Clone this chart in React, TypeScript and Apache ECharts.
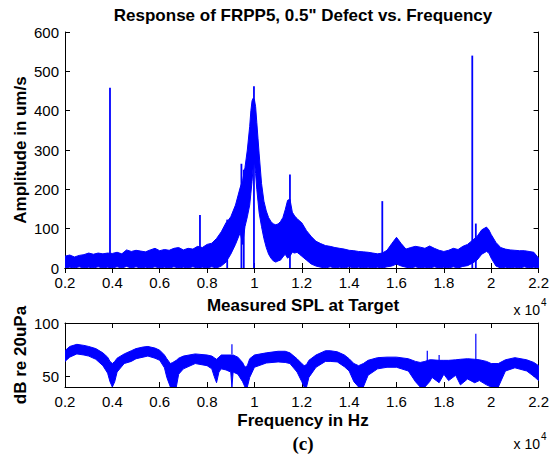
import React, { useEffect, useRef } from "react";
import * as echarts from "echarts";

// ---- Top plot: vibration response amplitude (um/s), noisy band ----
const ampFreq = [
  2000, 2200, 2400, 2600, 2800, 3000, 3200, 3400, 3600, 3800, 4000, 4200, 4400, 4600, 4800,
  5000, 5200, 5400, 5600, 5800, 6000, 6200, 6400, 6600, 6800, 7000, 7200, 7400, 7600, 7800,
  8000, 8200, 8400, 8600, 8800, 8900, 9000, 9200, 9400, 9500, 9600, 9700, 9800, 9850, 9900,
  9950, 10000, 10050, 10100, 10150, 10200, 10300, 10400, 10500, 10600, 10700, 10800, 10900,
  11000, 11100, 11200, 11300, 11400, 11500, 11600, 11700, 11800, 11900, 12000, 12200, 12400,
  12600, 12800, 13000, 13200, 13400, 13600, 13800, 14000, 14200, 14400, 14600, 14800, 15000,
  15200, 15400, 15600, 15800, 16000, 16200, 16400, 16600, 16800, 17000, 17200, 17400, 17600,
  17800, 18000, 18200, 18400, 18600, 18800, 19000, 19200, 19400, 19600, 19800, 19900, 20000,
  20200, 20400, 20600, 20800, 21000, 21200, 21400, 21600, 21800, 22000,
];
const ampHigh = [
  30, 33, 28, 32, 34, 38, 35, 38, 36, 38, 37, 40, 36, 46, 42,
  45, 43, 41, 46, 50, 44, 47, 45, 50, 52, 46, 50, 48, 55, 52,
  60, 63, 75, 92, 115, 122, 130, 160, 205, 222, 255, 300, 360, 400, 425,
  432, 428, 410, 370, 330, 290, 215, 170, 145, 128, 118, 112, 110,
  112, 118, 128, 148, 172, 175, 142, 132, 126, 120, 115, 95, 80,
  68, 62, 57, 55, 52, 50, 48, 45, 44, 42, 41, 40, 38,
  36, 38, 45, 62, 78, 62, 48, 52, 55, 53, 50, 56, 50,
  45, 42, 45, 50, 47, 55, 60, 70, 80, 97, 104, 97, 85,
  65, 52, 48, 46, 45, 44, 44, 42, 40, 25,
];
const ampLow = [
  0, 2, 0, 3, 0, 2, 0, 3, 0, 2, 0, 3, 0, 4, 0,
  3, 0, 2, 0, 3, 0, 2, 0, 3, 0, 2, 0, 3, 0, 2,
  0, 3, 0, 5, 15, 25, 35, 60, 90, 60, 105, 130, 160, 190, 220,
  260, 270, 240, 200, 170, 140, 105, 75, 52, 35, 25, 18, 15,
  18, 20, 28, 35, 25, 30, 40, 38, 40, 35, 30, 20, 10,
  5, 2, 0, 3, 0, 2, 0, 3, 0, 2, 0, 2, 0,
  2, 0, 3, 5, 10, 5, 2, 0, 3, 0, 2, 0, 3,
  0, 2, 0, 3, 0, 4, 6, 12, 20, 35, 42, 38, 25,
  5, 0, 2, 0, 2, 0, 3, 0, 2, 0,
];
// narrow spikes [frequency Hz, peak um/s]
const ampSpikes = [
  [3900, 458], [7700, 135], [8850, 123], [9450, 265], [9550, 250], [9980, 462],
  [11500, 238], [15400, 170], [19200, 540], [19350, 113],
];

// ---- Bottom plot: measured SPL (dB re 20 uPa) ----
const splFreq = [
  2000, 2200, 2500, 2800, 3000, 3300, 3600, 3800, 3900, 4000, 4100, 4200, 4500, 4800, 5000,
  5300, 5500, 5800, 6000, 6200, 6300, 6450, 6550, 6700, 6800, 7000, 7500, 8000, 8200, 8300,
  8400, 8500, 8600, 8800, 9000, 9050, 9100, 9300, 9500, 9600, 9700, 9800, 10000, 10500, 11000,
  11300, 11500, 11800, 12000, 12100, 12200, 12300, 12600, 13000, 13200, 13500, 13800, 14000,
  14200, 14400, 14600, 14800, 15200, 15600, 16000, 16500, 16800, 17000, 17200, 17400, 17500,
  17800, 18000, 18200, 18500, 18700, 19000, 19300, 19500, 19800, 20000, 20300, 20600, 21000,
  21500, 21800, 22000,
];
const splHigh = [
  74, 78, 80, 79, 78, 76, 72, 68, 64, 62, 64, 67, 71, 74, 76,
  77.5, 78, 76.5, 74.5, 70, 66.5, 62, 63, 65, 67, 69, 71, 70, 69, 67.5,
  66, 68, 70, 70, 70, 69, 70, 68, 63, 58.5, 60, 66.5, 70, 72, 73.5,
  73.5, 72, 66.5, 62, 60, 61, 65, 70, 74, 74, 73, 70, 66.5,
  62, 60, 62, 65, 67.5, 68, 68, 66.5, 64, 63, 64, 65.5, 65.5,
  65, 65, 65, 65.5, 66, 66.5, 66, 65.5, 64, 62, 62, 65.5, 67.5,
  65.5, 63, 60,
];
const splLow = [
  64, 68, 71, 70, 69, 66, 60, 53, 45, 40, 45, 54, 62, 64, 66.5,
  68, 69, 67, 65, 58, 49, 40, 40, 40, 52, 57, 62, 60, 57, 50,
  44, 54, 57, 56, 54, 40, 54, 52, 45, 40, 40, 49, 58.5, 62.5, 63.5,
  63, 62, 54, 45, 40, 40, 49, 58.5, 64, 64, 63.5, 59, 55,
  45, 40, 40, 51, 57, 58.5, 58.5, 55, 45, 40, 40, 45, 49,
  44, 52, 46, 51, 42, 47.5, 44, 46, 42, 40, 40, 55, 58,
  55, 50, 46,
];
const splSpikes = [
  [9050, 80], [17300, 74], [17800, 70], [19350, 90],
];

const xTicks = { min: 2000, max: 22000, interval: 2000 };

const BLUE = "#0000ff";
const FONT = "'Liberation Sans', Arial, sans-serif";
const TICK_SIZE = 15;

// custom series drawing a filled noise band between low/high envelopes, plus spikes
function bandSeries(
  xIdx: number, yIdx: number,
  freq: number[], high: number[], low: number[],
  spikes: number[][], spikeBase: number, spikeWidth: number,
) {
  return {
    type: "custom",
    xAxisIndex: xIdx,
    yAxisIndex: yIdx,
    silent: true,
    clip: true,
    data: [[freq[0], low[0]]],
    renderItem: (_params: any, api: any) => {
      const pts: number[][] = [];
      for (let i = 0; i < freq.length; i++) pts.push(api.coord([freq[i], high[i]]));
      for (let i = freq.length - 1; i >= 0; i--) pts.push(api.coord([freq[i], low[i]]));
      const children: any[] = [
        {
          type: "polygon",
          shape: { points: pts },
          style: { fill: BLUE, stroke: BLUE, lineWidth: 1 },
        },
      ];
      spikes.forEach(([f, v]) => {
        const a = api.coord([f, spikeBase]);
        const b = api.coord([f, v]);
        children.push({
          type: "line",
          shape: { x1: a[0], y1: a[1], x2: b[0], y2: b[1] },
          style: { stroke: BLUE, lineWidth: spikeWidth },
        });
      });
      return { type: "group", children };
    },
  };
}

function buildOption() {
  const axisLine = { show: true, lineStyle: { color: "#000", width: 1 } };
  const tick = { show: true, inside: true, length: 5, lineStyle: { color: "#000", width: 1 } };
  const label = { color: "#000", fontSize: TICK_SIZE, fontFamily: FONT };
  const fmtX = (v: number) => String(parseFloat((v / 10000).toFixed(1)));

  const xAx = (grid: number, pos: "top" | "bottom", showLabel: boolean) => ({
    type: "value",
    gridIndex: grid,
    position: pos,
    ...xTicks,
    axisLine,
    axisTick: tick,
    splitLine: { show: false },
    axisLabel: { show: showLabel, ...label, margin: 7, formatter: fmtX },
  });

  const text = (x: number, y: number, t: string, font: string, extra: any = {}) => ({
    type: "text", x, y, ...extra,
    style: { text: t, fill: "#000", font, align: "center", verticalAlign: "middle", ...(extra.style || {}) },
  });

  return {
    animation: false,
    grid: [
      { left: 65, top: 32, width: 477, height: 236 },
      { left: 65, top: 323, width: 477, height: 64 },
    ],
    xAxis: [xAx(0, "bottom", true), xAx(0, "top", false), xAx(1, "bottom", true), xAx(1, "top", false)],
    yAxis: [
      {
        type: "value", gridIndex: 0, position: "left", min: 0, max: 600, interval: 100,
        axisLine, axisTick: tick, splitLine: { show: false },
        axisLabel: { ...label, margin: 6 },
      },
      {
        type: "value", gridIndex: 0, position: "right", min: 0, max: 600, interval: 100,
        axisLine, axisTick: tick, splitLine: { show: false }, axisLabel: { show: false },
      },
      {
        type: "value", gridIndex: 1, position: "left", min: 40, max: 100,
        axisLine, axisTick: { ...tick, customValues: [50, 100] }, splitLine: { show: false },
        axisLabel: { ...label, margin: 6, customValues: [50, 100] },
      },
      {
        type: "value", gridIndex: 1, position: "right", min: 40, max: 100,
        axisLine, axisTick: { ...tick, customValues: [50, 100] }, splitLine: { show: false },
        axisLabel: { show: false, customValues: [50, 100] },
      },
    ],
    series: [
      bandSeries(0, 0, ampFreq, ampHigh, ampLow, ampSpikes, 0, 1.8),
      bandSeries(2, 2, splFreq, splHigh, splLow, splSpikes, 60, 1.2),
    ],
    graphic: [
      text(303, 15, 'Response of FRPP5, 0.5" Defect vs. Frequency', `bold 17px ${FONT}`),
      text(303, 305, "Measured SPL at Target", `bold 17px ${FONT}`),
      text(303, 420, "Frequency in Hz", `bold 17px ${FONT}`),
      text(303, 443, "(c)", `bold 19px 'Liberation Serif', 'Times New Roman', serif`),
      text(20, 150, "Amplitude in um/s", `bold 17px ${FONT}`, { rotation: Math.PI / 2 }),
      text(20, 355, "dB re 20uPa", `bold 17px ${FONT}`, { rotation: Math.PI / 2 }),
      text(540, 310, "x 10", `14px ${FONT}`, { style: { align: "right" } }),
      text(541, 302, "4", `10px ${FONT}`, { style: { align: "left" } }),
      text(540, 444, "x 10", `14px ${FONT}`, { style: { align: "right" } }),
      text(541, 436, "4", `10px ${FONT}`, { style: { align: "left" } }),
    ],
  };
}

export default function App() {
  const ref = useRef<HTMLDivElement>(null);
  useEffect(() => {
    if (!ref.current) return;
    const chart = echarts.init(ref.current, null, { renderer: "svg" });
    chart.setOption(buildOption() as any);
    return () => chart.dispose();
  }, []);
  return (
    <div
      ref={ref}
      style={{ position: "fixed", left: 0, top: 0, width: 552, height: 456, background: "#fff" }}
    />
  );
}
